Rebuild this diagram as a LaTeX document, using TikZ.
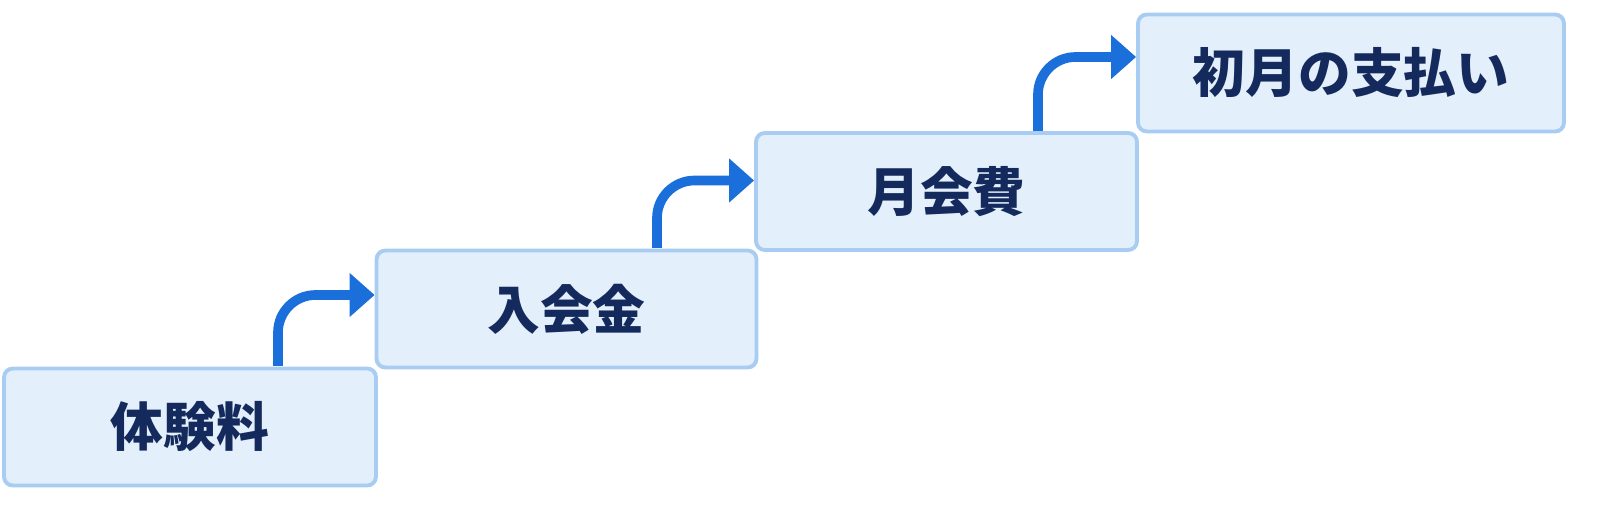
\documentclass[tikz,border=0pt]{standalone}
\usepackage{fontspec}
\newfontfamily\cjk{Noto Sans CJK JP}
\usetikzlibrary{arrows.meta,positioning}
\definecolor{boxfill}{HTML}{E4EFFC}
\definecolor{boxline}{HTML}{A8CCF2}
\definecolor{navy}{HTML}{142A5C}
\definecolor{stepblue}{HTML}{1B6FDA}
\tikzset{%
stepbox/.style={draw=boxline, line width=2.2pt, fill=boxfill, rounded corners=5pt,
  minimum height=2.34cm, inner sep=0pt, font=\cjk\bfseries\fontsize{30}{30}\selectfont, text=navy},
up/.style={draw=stepblue, line width=5.5pt, rounded corners=0.75cm,
  -{Triangle[length=0.5cm,width=0.85cm]}}
}
\begin{document}
\begin{tikzpicture}[x=0.02cm,y=-0.02cm]
	\fill[white!96!blue!3] (0,0) rectangle (1600,509);
	\useasboundingbox (0,0) rectangle (1600,509);
	
	\node[stepbox, minimum width=7.44cm] (taiken) at (190,427) {体験料};
	\node[stepbox, minimum width=7.6cm] (nyukai) at (566.5,309) {入会金};
	\node[stepbox, minimum width=7.62cm] (gekkai) at (946.5,191.5) {月会費};
	\node[stepbox, minimum width=8.52cm] (shogetsu) at (1351,73) {初月の支払い};
	
	\coordinate (s1) at (278,366);
	\coordinate (s2) at (657,248);
	\coordinate (s3) at (1038,131);
	
	\draw[up] (s1) |- ([yshift=0.28cm]nyukai.west);
	\draw[up] (s2) |- ([yshift=0.22cm]gekkai.west);
	\draw[up] (s3) |- ([yshift=0.32cm]shogetsu.west);
\end{tikzpicture}
\end{document}
